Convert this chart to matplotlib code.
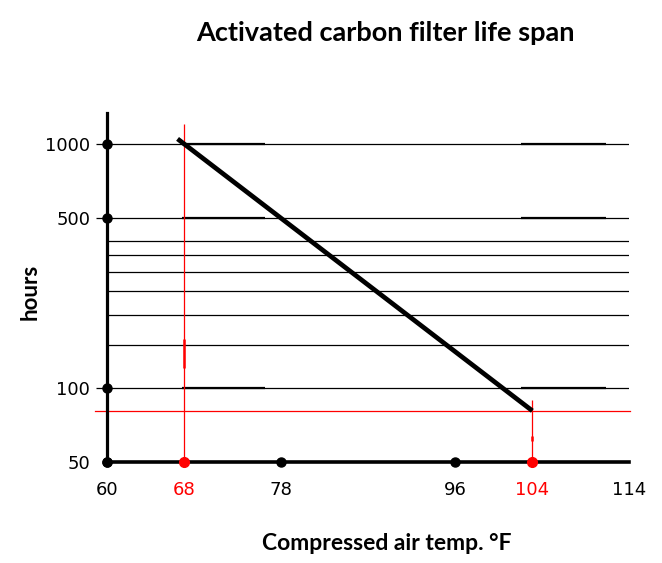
import matplotlib.pyplot as plt
from matplotlib.ticker import NullLocator, NullFormatter

# chart values
temp_ticks = [60, 68, 78, 96, 104, 114]
temp_colors = ["black", "red", "black", "black", "red", "black"]
hour_ticks = [50, 100, 500, 1000]
grid_hours = [1000, 500, 400, 350, 300, 250, 200, 150, 100]
life_temp = [67.3, 104]
life_hours = [1050, 81]
marked_temp = [68, 104]
marked_hours = 81
dot_temps = [60, 78, 96]

fig = plt.figure(figsize=(6.62, 5.63), dpi=100)
ax = fig.add_axes([107 / 662, 1 - 462 / 563, 522 / 662, 349 / 563])
ax.set_yscale("log")
ax.set_xlim(60, 114)
ax.set_ylim(50, 1340)

# horizontal grid lines
ax.hlines(grid_hours, 60, 114, color="black", lw=0.9, zorder=1)
# heavier hand-drawn pieces on the labelled lines
for h in [1000, 500, 100]:
    ax.hlines(h, 67.8, 76.3, color="black", lw=1.6, zorder=1)
    ax.hlines(h, 102.8, 111.6, color="black", lw=1.6, zorder=1)

# red reading lines
ax.vlines(marked_temp[0], 50, 1208, color="red", lw=0.9, zorder=2)
ax.vlines(marked_temp[0], 121, 160, color="red", lw=1.8, zorder=2)
ax.vlines(marked_temp[1], 50, 89.5, color="red", lw=0.9, zorder=2)
ax.vlines(marked_temp[1], 61, 64, color="red", lw=1.8, zorder=2)
ax.axhline(marked_hours, xmin=-0.023, xmax=1.002, color="red", lw=0.9,
           clip_on=False, zorder=2)

# life span line
ax.plot(life_temp, life_hours, color="black", lw=3.4, solid_capstyle="butt",
        zorder=3)

# dots on the axes
ax.plot([60] * 4, hour_ticks, "o", color="black", ms=6.5, clip_on=False, zorder=5)
ax.plot(dot_temps, [50] * 3, "o", color="black", ms=6.5, clip_on=False, zorder=5)
ax.plot(marked_temp, [50] * 2, "o", color="red", ms=7, clip_on=False, zorder=5)

for side in ["top", "right"]:
    ax.spines[side].set_visible(False)
ax.spines["left"].set_linewidth(2.3)
ax.spines["bottom"].set_linewidth(2.6)

ax.yaxis.set_minor_locator(NullLocator())
ax.yaxis.set_minor_formatter(NullFormatter())
ax.set_yticks(hour_ticks)
ax.set_yticklabels([str(h) for h in hour_ticks])
ax.tick_params(axis="y", length=8, width=0.9, pad=4, labelsize=13)
ax.yaxis.get_major_ticks()[0].tick1line.set_visible(False)

ax.set_xticks(temp_ticks)
ax.set_xticklabels([str(t) for t in temp_ticks])
ax.tick_params(axis="x", length=0, pad=14, labelsize=13)
for lab, c in zip(ax.get_xticklabels(), temp_colors):
    lab.set_color(c)

fig.text(385 / 662, 1 - 33 / 563, "Activated carbon filter life span",
         ha="center", va="center", fontsize=19.5, fontweight="bold", family="Lato")
fig.text(387 / 662, 1 - 543 / 563, "Compressed air temp. °F",
         ha="center", va="center", fontsize=16.5, fontweight="bold", family="Lato")
fig.text(30 / 662, 1 - 292 / 563, "hours", rotation=90,
         ha="center", va="center", fontsize=16, fontweight="bold", family="Lato")

fig.savefig("out.png", dpi=100)
